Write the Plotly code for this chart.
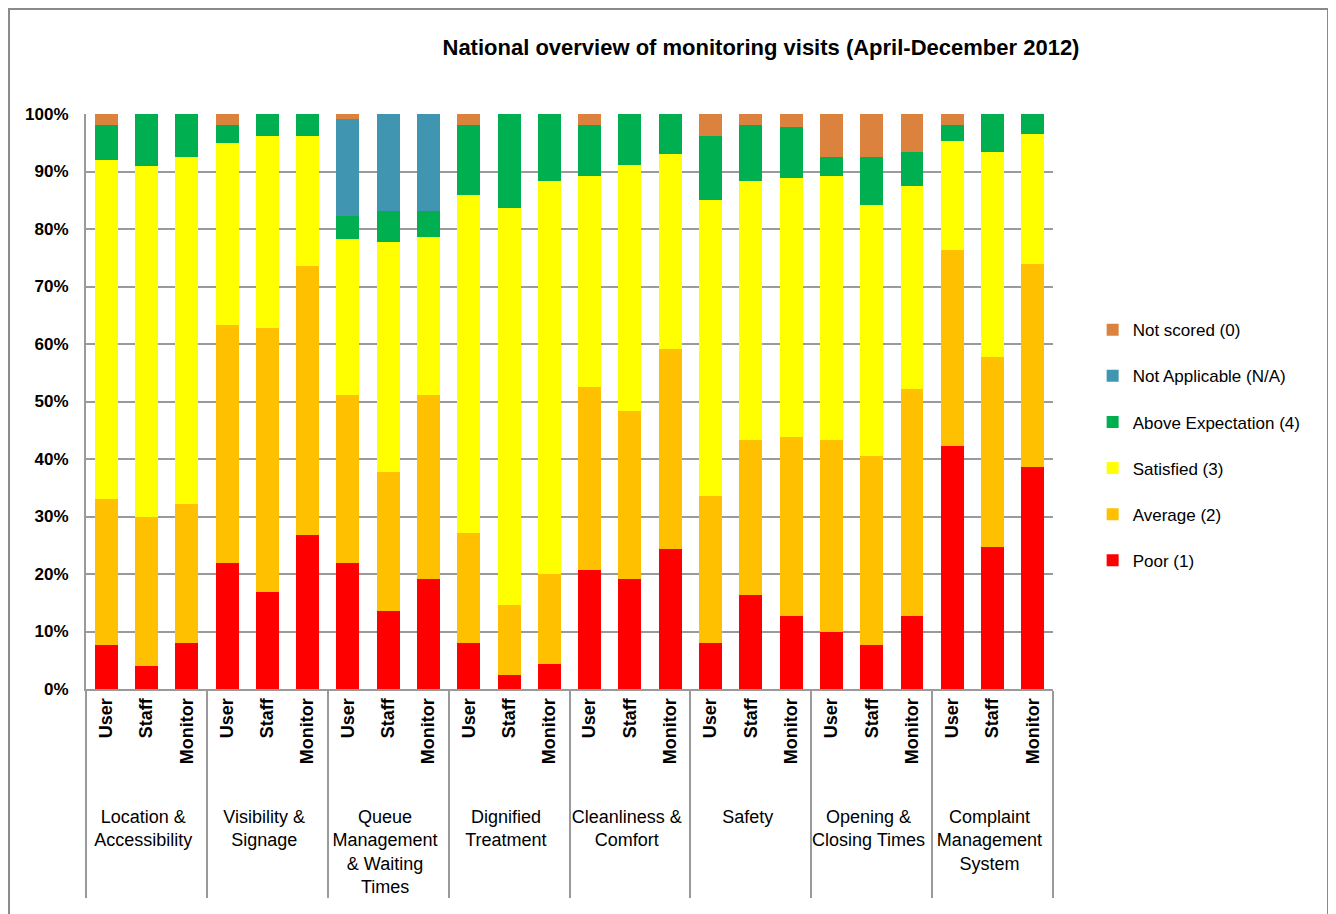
import plotly.graph_objects as go

groups = ["Location &<br>Accessibility", "Visibility &<br>Signage", "Queue<br>Management<br>& Waiting<br>Times",
          "Dignified<br>Treatment", "Cleanliness &<br>Comfort", "Safety", "Opening &<br>Closing Times",
          "Complaint<br>Management<br>System"]
respondents = ["User", "Staff", "Monitor"]

poor = [7.7, 4.0, 8.0, 22.0, 16.9, 26.7, 22.0, 13.6, 19.2, 8.0, 2.5, 4.3,
        20.7, 19.2, 24.4, 8.0, 16.4, 12.7, 10.0, 7.7, 12.7, 42.3, 24.7, 38.6]
average = [25.4, 25.9, 24.2, 41.3, 45.9, 46.8, 29.1, 24.1, 31.9, 19.1, 12.1, 15.7,
           31.9, 29.2, 34.7, 25.5, 26.9, 31.1, 33.3, 32.8, 39.4, 34.0, 33.1, 35.4]
satisfied = [58.9, 61.1, 60.3, 31.6, 33.4, 22.7, 27.1, 40.0, 27.5, 58.9, 69.1, 68.3,
             36.7, 42.8, 33.9, 51.5, 45.0, 45.0, 46.0, 43.7, 35.3, 19.0, 35.6, 22.6]
above = [6.1, 9.0, 7.5, 3.2, 3.8, 3.8, 4.1, 5.5, 4.6, 12.1, 16.3, 11.7,
         8.8, 8.8, 7.0, 11.2, 9.8, 8.9, 3.2, 8.3, 6.0, 2.8, 6.6, 3.4]
not_applicable = [0, 0, 0, 0, 0, 0, 16.8, 16.8, 16.8, 0, 0, 0,
                  0, 0, 0, 0, 0, 0, 0, 0, 0, 0, 0, 0]
not_scored = [1.9, 0, 0, 1.9, 0, 0, 0.9, 0, 0, 1.9, 0, 0,
              1.9, 0, 0, 3.8, 1.9, 2.3, 7.5, 7.5, 6.6, 1.9, 0, 0]

series = [
    ("Poor (1)", poor, "#FF0000"),
    ("Average (2)", average, "#FFC000"),
    ("Satisfied (3)", satisfied, "#FFFF00"),
    ("Above Expectation (4)", above, "#00B050"),
    ("Not Applicable (N/A)", not_applicable, "#4096B0"),
    ("Not scored (0)", not_scored, "#DB823F"),
]

x_outer = ["<br>" + g for g in groups for _ in respondents]
x_inner = ["<b>%s</b>" % r for _ in groups for r in respondents]

FONT = "Liberation Sans Narrow, Arial Narrow, Liberation Sans, Arial, sans-serif"

fig = go.Figure()
n = len(series)
for i, (name, vals, color) in enumerate(series):
    fig.add_trace(go.Bar(
        x=[x_outer, x_inner], y=vals, name=name, legendgroup=name,
        legendrank=n - i,
        marker=dict(color=color, line=dict(width=0)),
    ))

fig.update_layout(
    width=1336, height=914,
    barmode="stack", bargap=0.43,
    paper_bgcolor="white", plot_bgcolor="white",
    margin=dict(l=78, r=291, t=106, b=233),
    font=dict(family=FONT, size=17, color="#000000"),
    title=dict(text="<b>National overview of monitoring visits (April-December 2012)</b>",
               x=0.5636, xanchor="center", y=0.957, yanchor="middle",
               font=dict(family=FONT, size=22, color="#000000")),
    legend=dict(x=1.041, xanchor="left", y=0.424, yanchor="middle",
                traceorder="grouped", tracegroupgap=21,
                bgcolor="rgba(0,0,0,0)",
                font=dict(family=FONT, size=17, color="#000000"),
                itemwidth=30),
    showlegend=True,
)
fig.update_yaxes(range=[0, 100], tickvals=list(range(0, 101, 10)),
                 ticktext=["<b>%d%%</b>" % v for v in range(0, 101, 10)],
                 showgrid=True, gridcolor="#9A9A9A", gridwidth=2,
                 showline=True, linecolor="#9A9A9A", linewidth=2,
                 ticks="", ticklabelstandoff=12,
                 tickfont=dict(family=FONT, size=17), zeroline=False)
fig.update_xaxes(type="multicategory", tickangle=-90,
                 showline=True, linecolor="#9A9A9A", linewidth=2,
                 showdividers=True, dividercolor="#9A9A9A", dividerwidth=1.5,
                 tickfont=dict(family=FONT, size=18))
fig.add_shape(type="rect", xref="paper", yref="paper",
              x0=-0.0796, x1=1.2844, y0=-0.42, y1=1.1826,
              line=dict(color="#8A8A8A", width=2), fillcolor="rgba(0,0,0,0)")
fig.write_html("out.html")
